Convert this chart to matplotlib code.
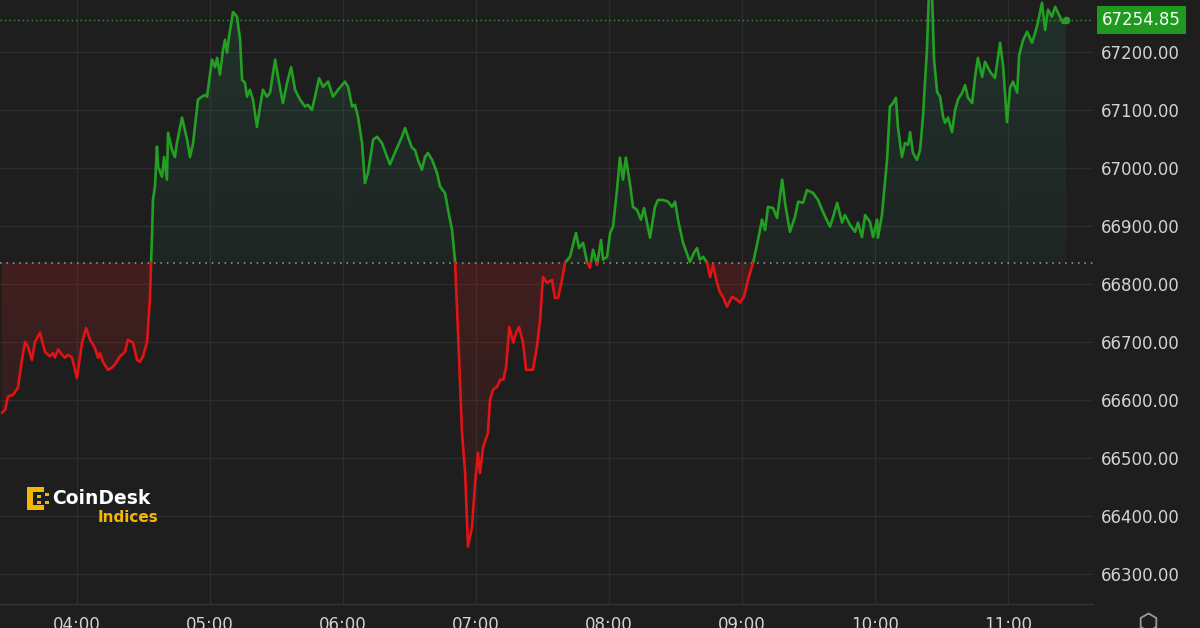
import numpy as np
import matplotlib
matplotlib.use('Agg')
import matplotlib.pyplot as plt
from matplotlib.colors import to_rgb
from matplotlib.path import Path
from matplotlib.patches import PathPatch, Rectangle
from matplotlib.lines import Line2D

# BTC price (CoinDesk index), minutes after 04:00 and price in USD
minutes = [-33.8, -32.4, -31.1, -28.8, -26.6, -24.8, -23.4, -22.1, -20.3, -18.9, -16.7, -14.4, -12.1, -10.8,
           -9.9, -8.5, -6.7, -5.4, -4.0, -2.2, 0.0, 2.3, 4.1, 5.9, 8.1, 9.5, 10.4, 11.7, 14.0, 15.8, 17.1,
           19.4, 21.7, 23.0, 25.3, 27.1, 28.4, 29.8, 31.6, 32.9,
           33.9, 34.3, 35.2, 36.1, 36.6, 38.4, 39.3, 40.6, 41.1, 42.9, 44.2, 45.1, 47.4, 49.7, 51.0, 52.4,
           54.6, 56.4, 57.7, 58.7, 60.9, 62.3, 63.2, 64.5, 65.9, 66.8, 67.7, 68.6, 70.4, 72.2, 73.6, 74.5,
           75.8, 76.7, 78.0, 79.4, 81.2, 82.6, 83.9, 85.7, 87.1, 89.4, 90.7, 92.9, 94.8, 96.6, 98.4, 100.6,
           102.9, 104.2, 106.0, 107.4, 109.2, 111.0, 113.3, 115.5, 117.8, 120.9, 122.3, 124.1, 125.4, 126.8,
           128.6, 129.9, 131.3, 133.6, 135.4, 137.6, 139.9, 141.2, 142.6, 144.4, 146.6, 148.0, 149.3, 151.1,
           152.5, 153.8, 155.6, 157.0, 158.3, 160.2, 162.4, 163.8, 166.0, 167.4, 169.2, 170.5,
           171.9, 173.7, 175.1, 176.4, 178.2, 179.6, 180.9, 181.8, 183.2, 185.4, 186.3, 187.7, 189.5, 190.9,
           192.3, 193.6, 195.0, 196.8, 198.1, 199.4, 201.2, 202.6, 204.4, 205.7, 207.5, 208.9, 210.2, 212.0,
           214.3, 215.6, 217.0, 218.8, 220.2,
           222.4, 225.1, 226.5, 228.3, 230.1, 231.4, 232.8, 234.6, 236.4, 237.3, 239.1, 240.5, 241.8, 243.6,
           244.9, 246.3, 247.6, 249.4, 250.8, 252.6, 254.4, 255.8, 258.5, 260.7, 262.1, 264.3, 266.6, 268.4,
           269.8, 271.1, 273.4, 276.5, 278.3, 279.7, 281.0, 282.4, 284.2,
           285.6, 286.9, 288.7, 290.1, 291.4, 293.2, 295.5, 297.7, 299.1, 300.9, 302.7, 305.0,
           307.2, 309.0, 310.4, 311.7, 314.0, 315.8, 318.1, 319.4, 321.6, 323.9, 325.3, 327.5, 329.3, 332.0,
           334.3, 336.1, 337.5, 339.7, 341.1, 342.9, 345.1, 346.4, 348.7, 351.0, 352.3, 354.1, 355.5, 357.7,
           359.1, 360.9, 361.3, 363.1, 365.4, 366.7, 368.1, 369.4, 370.3, 372.1, 373.5, 374.9, 375.8, 377.1,
           378.9, 380.3, 381.6, 383.4, 384.3, 385.7, 386.6, 388.0, 389.3, 390.7, 391.6, 392.9, 394.7, 396.1,
           397.4, 399.3, 400.6, 401.9, 403.8, 405.1, 406.4, 408.3, 409.6, 411.9, 414.1, 416.4, 417.8, 419.5,
           420.9, 422.2, 424.1, 425.0, 426.8, 428.6, 430.8, 432.2, 433.5, 435.3, 436.7, 438.0, 439.8, 441.2,
           443.0, 444.8, 446.1]
prices = [66578, 66583, 66606, 66609, 66621, 66669, 66700, 66692, 66669, 66700, 66716, 66683, 66675, 66681,
          66673, 66687, 66678, 66673, 66678, 66673, 66638, 66699, 66724, 66704, 66690, 66673, 66681, 66666,
          66652, 66656, 66661, 66675, 66683, 66704, 66699, 66669, 66666, 66675, 66699, 66773,
          66888, 66945, 66968, 67037, 67002, 66985, 67019, 66980, 67061, 67031, 67019, 67043, 67087, 67049,
          67019, 67043, 67118, 67123, 67126, 67123, 67187, 67174, 67190, 67161, 67204, 67221, 67199, 67226,
          67269, 67261, 67221, 67152, 67147, 67123, 67135, 67118, 67071, 67106, 67135, 67123, 67130, 67187,
          67157, 67112, 67147, 67174, 67135, 67118, 67106, 67109, 67100, 67123, 67155, 67140, 67149, 67123,
          67135, 67149, 67140, 67106, 67109, 67088, 67043, 66974, 66992, 67049, 67054, 67043, 67019, 67006,
          67019, 67035, 67054, 67069, 67054, 67035, 67031, 67014, 66997, 67019, 67026, 67014, 66992, 66968,
          66957, 66928, 66893, 66842,
          66716, 66543, 66474, 66347, 66381, 66457, 66509, 66474, 66519, 66543, 66600, 66618, 66623, 66635,
          66635, 66657, 66726, 66699, 66716, 66726, 66699, 66652, 66652, 66652, 66692, 66738, 66812, 66802,
          66807, 66776, 66776, 66807, 66837,
          66847, 66888, 66862, 66871, 66837, 66828, 66859, 66833, 66876, 66842, 66847, 66888, 66899, 66962,
          67018, 66980, 67018, 66974, 66933, 66928, 66911, 66931, 66880, 66933, 66945, 66945, 66942, 66933,
          66942, 66911, 66871, 66838, 66854, 66862, 66842, 66847, 66837,
          66812, 66833, 66802, 66785, 66778, 66761, 66778, 66773, 66768, 66778, 66807, 66837,
          66876, 66911, 66893, 66933, 66931, 66914, 66980, 66940, 66890, 66916, 66942, 66940, 66962, 66957,
          66945, 66928, 66916, 66899, 66916, 66940, 66906, 66919, 66902, 66890, 66906, 66881, 66919, 66907,
          66881, 66911, 66880, 66919, 67014, 67106, 67112, 67121, 67071, 67019, 67043, 67040, 67062, 67026,
          67014, 67031, 67088, 67204, 67300, 67300, 67187, 67131, 67123, 67088, 67078, 67087, 67062, 67100,
          67118, 67130, 67143, 67121, 67112, 67157, 67190, 67157, 67183, 67166, 67155, 67216, 67174, 67079,
          67138, 67149, 67130, 67195, 67221, 67235, 67216, 67233, 67252, 67285, 67238, 67273, 67261, 67278,
          67264, 67250, 67254.85]

open_price = 66836.5
last_price = 67254.85
hour_ticks = [0, 60, 120, 180, 240, 300, 360, 420]
hour_labels = ['04:00', '05:00', '06:00', '07:00', '08:00', '09:00', '10:00', '11:00']
price_ticks = [66300, 66400, 66500, 66600, 66700, 66800, 66900, 67000, 67100, 67200]

BG = '#1e1e1e'
GRID = '#2d2d2d'
GREEN = '#23a023'
RED = '#e01414'
TXT = '#d2d2d2'

fig = plt.figure(figsize=(12, 6.28), dpi=100, facecolor=BG)
ax = fig.add_axes([0, 24 / 628, 1093 / 1200, 604 / 628])
ax.set_facecolor(BG)

t = np.array(minutes, dtype=float)
p = np.array(prices, dtype=float)

# insert the crossings with the open price so both colours meet there
xs, ys = [t[0]], [p[0]]
for i in range(1, len(t)):
    a = p[i - 1] - open_price
    b = p[i] - open_price
    if a * b < 0:
        f = a / (a - b)
        xs.append(t[i - 1] + f * (t[i] - t[i - 1]))
        ys.append(open_price)
    xs.append(t[i])
    ys.append(p[i])
xs = np.array(xs)
ys = np.array(ys)

xmin, xmax = -34.7, 458.3
ymin, ymax = 66248.3, 67289.7


def gradient_fill(where, color, a_lo, a_hi, lo, hi):
    coll = ax.fill_between(xs, ys, open_price, where=where, interpolate=True,
                           facecolor='none', edgecolor='none')
    paths = coll.get_paths()
    clip = PathPatch(Path.make_compound_path(*paths), transform=ax.transData,
                     facecolor='none', edgecolor='none')
    ax.add_patch(clip)
    img = np.zeros((256, 1, 4))
    img[:, :, :3] = to_rgb(color)
    img[:, 0, 3] = np.linspace(a_lo, a_hi, 256)
    im = ax.imshow(img, aspect='auto', origin='lower', extent=[xmin, xmax, lo, hi],
                   zorder=1, interpolation='bilinear')
    im.set_clip_path(clip)


gradient_fill(ys >= open_price, '#2f8f70', 0.07, 0.17, open_price, ymax)
gradient_fill(ys <= open_price, '#c82020', 0.0, 0.22, ymin, open_price)

green = np.where(ys >= open_price, ys, np.nan)
red = np.where(ys <= open_price, ys, np.nan)
ax.plot(xs, green, color=GREEN, lw=1.9, zorder=4, solid_joinstyle='round', solid_capstyle='round')
ax.plot(xs, red, color=RED, lw=1.9, zorder=4, solid_joinstyle='round', solid_capstyle='round')
ax.plot([t[-1]], [p[-1]], 'o', ms=4.5, color=GREEN, zorder=5)

ax.axhline(open_price, color='#a0a0a0', lw=1.1, ls=(0, (1, 3.2)), zorder=3)
ax.axhline(last_price, color='#3a9a3a', lw=1.0, ls=(0, (1, 2.2)), zorder=3)

ax.set_xlim(xmin, xmax)
ax.set_ylim(ymin, ymax)
ax.set_xticks(hour_ticks)
ax.set_xticklabels(hour_labels)
ax.set_yticks(price_ticks)
ax.set_yticklabels([f'{v:.2f}' for v in price_ticks])
ax.yaxis.tick_right()
ax.tick_params(axis='y', length=0, pad=6, labelsize=12, labelcolor=TXT)
ax.tick_params(axis='x', length=0, pad=9, labelsize=12, labelcolor=TXT)
ax.grid(True, color=GRID, lw=1.0, zorder=0)
ax.set_axisbelow(True)
for s in ['top', 'left', 'right']:
    ax.spines[s].set_visible(False)
ax.spines['bottom'].set_color('#353535')
ax.spines['bottom'].set_linewidth(1.0)

# cut-off top label and current price box
ax.text(1.0, 67300, ' 67300.00', transform=ax.get_yaxis_transform(), ha='left', va='center',
        fontsize=12, color=TXT, clip_on=False)
ax.annotate(f'{last_price:.2f}', xy=(1.0, last_price), xycoords=('axes fraction', 'data'),
            xytext=(9, 0), textcoords='offset pixels', ha='left', va='center',
            fontsize=12, color='#f0fff0', zorder=10, annotation_clip=False,
            bbox=dict(boxstyle='square,pad=0.3', fc='#1f9a1f', ec='none'))

# CoinDesk Indices logo
W, H = 1200, 628
gold = '#f2b705'
for (x0, y0, w, h) in [(27, 487, 6, 23), (27, 487, 17, 5), (27, 505, 17, 5),
                       (37, 495, 4, 3), (37, 501, 4, 3), (45, 493, 4, 3), (45, 501, 4, 3)]:
    fig.add_artist(Rectangle((x0 / W, 1 - (y0 + h) / H), w / W, h / H,
                             transform=fig.transFigure, fc=gold, ec='none'))
fig.text(52 / W, 1 - 498 / H, 'CoinDesk', fontsize=13.5, fontweight='bold', color='white',
         ha='left', va='center')
fig.text(158 / W, 1 - 518 / H, 'Indices', fontsize=11, fontweight='bold', color=gold,
         ha='right', va='center')

# settings icon at the bottom right
fig.add_artist(Line2D([1148 / W], [1 - 622 / H], marker='h', ms=13, mfc='none', mec='#9a9a9a',
                      mew=1.3, transform=fig.transFigure))

fig.savefig('out.png', dpi=100, facecolor=BG)
